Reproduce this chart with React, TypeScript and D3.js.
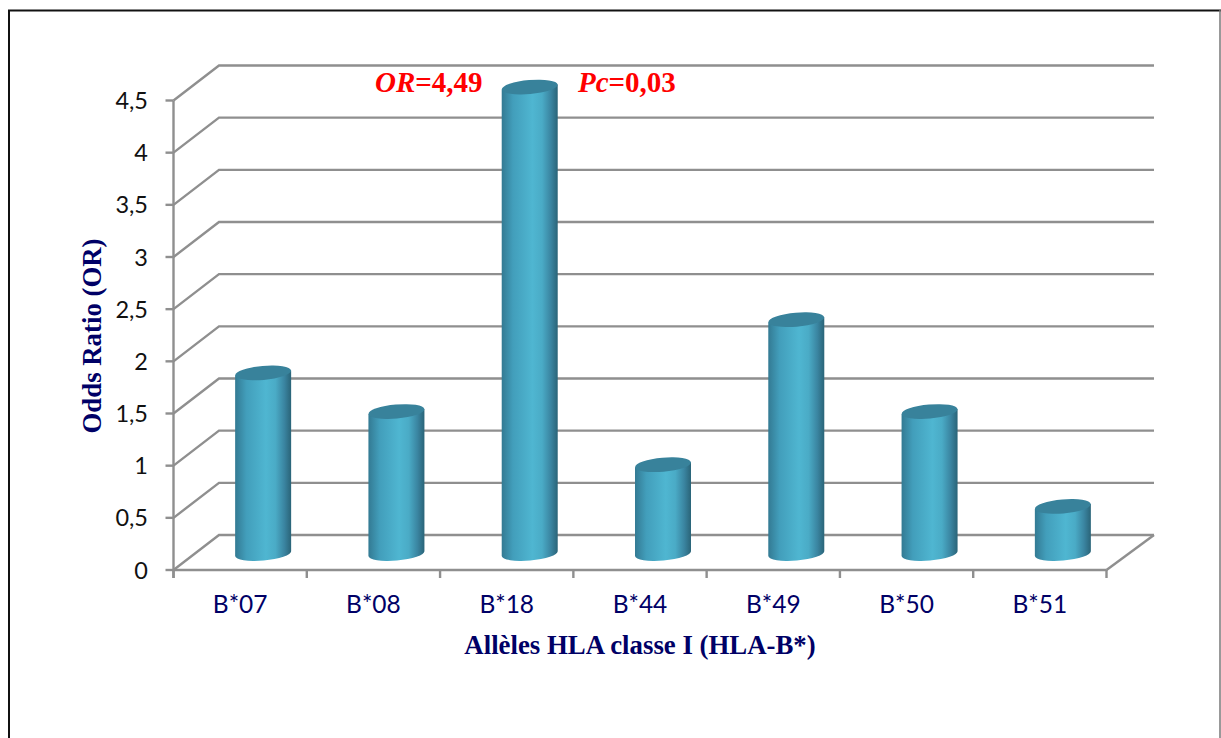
import React from "react";
import * as d3 from "d3";

const categories = ["B*07", "B*08", "B*18", "B*44", "B*49", "B*50", "B*51"];
const oddsRatios = [1.75, 1.38, 4.49, 0.87, 2.26, 1.38, 0.47];
const tickValues = [0, 0.5, 1, 1.5, 2, 2.5, 3, 3.5, 4, 4.5];
const tickLabels = ["0", "0,5", "1", "1,5", "2", "2,5", "3", "3,5", "4", "4,5"];

const NAVY = "#000066";
const GRID = "#8f8f8f";

// Plot geometry: front face of the 3D box and the depth offset of the back wall.
const frontLeft = 173.5;
const frontRight = 1106.5;
const frontBottom = 570;
const frontTop = 100.5;
const depthX = 45.5;
const depthY = -35;
const backRight = 1154;

const yScale = d3.scaleLinear().domain([0, 4.5]).range([frontBottom, frontTop]);
const xBand = d3.scaleBand<string>().domain(categories).range([frontLeft, frontRight]);

// Cylinders sit halfway into the box depth; caps are slightly tilted ellipses.
const barShiftX = 23;
const barShiftY = -14.5;
const barRadius = 28;
const capRy = 7;
const capTilt = -5;
const baseCy = 553.5;
const tiltDy = barRadius * Math.sin((-capTilt * Math.PI) / 180);

function bodyPath(cx: number, capCy: number) {
  const l = cx - barRadius;
  const r = cx + barRadius;
  return [
    `M${l},${capCy + tiltDy}`,
    `L${l},${baseCy + tiltDy}`,
    `A${barRadius},${capRy} ${capTilt} 0 0 ${r},${baseCy - tiltDy}`,
    `L${r},${capCy - tiltDy}`,
    "Z",
  ].join(" ");
}

export default function App() {
  return (
    <svg
      width={1221}
      height={738}
      viewBox="0 0 1221 738"
      style={{ position: "absolute", left: 0, top: 0, background: "#fff" }}
    >
      <defs>
        <linearGradient id="cyl" x1="0" x2="1" y1="0" y2="0">
          <stop offset="0" stopColor="#337a93" />
          <stop offset="0.2" stopColor="#429ebb" />
          <stop offset="0.55" stopColor="#4fb6d1" />
          <stop offset="0.72" stopColor="#4aabc6" />
          <stop offset="0.88" stopColor="#3a84a0" />
          <stop offset="1" stopColor="#2a6478" />
        </linearGradient>
      </defs>

      {/* Outer frame: heavy top and left edges, lighter right edge */}
      <line x1={9} x2={9} y1={10} y2={738} stroke="#111" strokeWidth={2} />
      <line x1={8} x2={1221} y1={10.5} y2={10.5} stroke="#111" strokeWidth={2} />
      <line x1={1220} x2={1220} y1={10} y2={738} stroke="#777" strokeWidth={1.5} />

      {/* Back wall gridlines and their diagonal side-wall segments */}
      <g stroke={GRID} strokeWidth={2.4} fill="none">
        {tickValues.map((v) => {
          const y = yScale(v);
          return (
            <g key={v}>
              <polyline points={`${frontLeft},${y} ${frontLeft + depthX},${y + depthY} ${backRight},${y + depthY}`} />
              <line x1={frontLeft - 8} x2={frontLeft} y1={y} y2={y} />
            </g>
          );
        })}
        <line x1={frontLeft} x2={frontLeft} y1={frontTop} y2={frontBottom + 8} />
        <line x1={frontLeft} x2={frontRight} y1={frontBottom} y2={frontBottom} />
        <line x1={frontRight} y1={frontBottom} x2={backRight} y2={frontBottom + depthY} />
        {d3.range(categories.length + 1).map((i) => {
          const x = frontLeft + i * xBand.step();
          return <line key={i} x1={x} x2={x} y1={frontBottom} y2={frontBottom + 8} />;
        })}
      </g>

      {/* Cylinders */}
      {categories.map((c, i) => {
        const cx = (xBand(c) as number) + xBand.bandwidth() / 2 + barShiftX;
        const capCy = yScale(oddsRatios[i]) + barShiftY;
        return (
          <g key={c}>
            <path d={bodyPath(cx, capCy)} fill="url(#cyl)" />
            <ellipse
              cx={cx}
              cy={capCy}
              rx={barRadius}
              ry={capRy}
              transform={`rotate(${capTilt} ${cx} ${capCy})`}
              fill="#38829b"
            />
          </g>
        );
      })}

      {/* Value tick labels */}
      <g fontFamily="Lato, sans-serif" fontSize={23.5} fill="#111" textAnchor="end">
        {tickValues.map((v, i) => (
          <text key={v} x={148} y={yScale(v) + 8.5}>{tickLabels[i]}</text>
        ))}
      </g>

      {/* Category labels */}
      <g fontFamily="Lato, sans-serif" fontSize={24.5} fill={NAVY} textAnchor="middle">
        {categories.map((c) => (
          <text key={c} x={(xBand(c) as number) + xBand.bandwidth() / 2} y={612.5}>{c}</text>
        ))}
      </g>

      {/* Axis titles */}
      <text x={640} y={654} textAnchor="middle" fontFamily="'Liberation Serif', serif" fontWeight="bold" fontSize={26.8} fill={NAVY}>
        Allèles HLA classe I (HLA-B*)
      </text>
      <text
        transform="translate(101,336) rotate(-90)"
        textAnchor="middle"
        fontFamily="'Liberation Serif', serif"
        fontWeight="bold"
        fontSize={26.8}
        fill={NAVY}
      >
        Odds Ratio (OR)
      </text>

      {/* Statistical annotation for B*18 */}
      <g fontFamily="'Liberation Serif', serif" fontWeight="bold" fontSize={29} fill="#ff0000">
        <text x={375} y={92}><tspan fontStyle="italic">OR</tspan>=4,49</text>
        <text x={578} y={92}><tspan fontStyle="italic">Pc</tspan>=0,03</text>
      </g>
    </svg>
  );
}
